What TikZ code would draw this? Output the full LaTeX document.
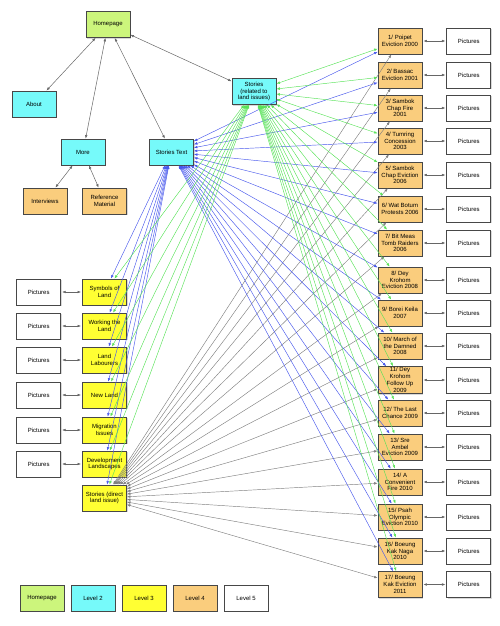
\documentclass[tikz,border=0pt]{standalone}
\usepackage{fontspec}
\setmainfont{Liberation Sans}
\usetikzlibrary{arrows.meta,positioning,shadows}

\definecolor{homegreen}{RGB}{204,245,124}
\definecolor{levelcyan}{RGB}{118,250,250}
\definecolor{levelyellow}{RGB}{255,255,51}
\definecolor{levelorange}{RGB}{250,205,125}
\definecolor{linkblue}{RGB}{72,88,236}
\definecolor{linkgreen}{RGB}{88,226,88}

\tikzset{
	pagebox/.style={draw=black!72, line width=0.8pt, fill=white, minimum width=44pt, minimum height=26pt, inner sep=1pt, align=center, font=\fontsize{6}{6.8}\selectfont, drop shadow={shadow xshift=1pt, shadow yshift=-1.2pt, opacity=0.3}},
	homebox/.style={pagebox, fill=homegreen},
	leveltwo/.style={pagebox, fill=levelcyan},
	levelthree/.style={pagebox, fill=levelyellow},
	levelfour/.style={pagebox, fill=levelorange},
	levelfive/.style={pagebox},
	navlink/.style={<->, draw=black!60, line width=0.5pt},
	bluelink/.style={<->, draw=linkblue, line width=0.45pt},
	greenlink/.style={<->, draw=linkgreen, line width=0.45pt},
	greylink/.style={<->, draw=black!50, line width=0.45pt}
}

\begin{document}
\begin{tikzpicture}[x=1pt,y=-1pt,>={Latex[length=3.5pt,width=2.6pt]}]
		\useasboundingbox (0,0) rectangle (500,626);
		\node[homebox] (home) at (108,24.5) {Homepage};
		\node[leveltwo] (about) at (34,104) {About};
		\node[leveltwo] (more) at (83,152) {More};
		\node[leveltwo] (sttext) at (171.5,152) {Stories Text};
		\node[leveltwo] (strel) at (254,91.5) {Stories\\(related to\\land issues)};
		\node[levelfour] (interv) at (45,201) {Interviews};
		\node[levelfour] (refmat) at (104.5,201) {Reference\\Material};
		\node[levelfour] (r1) at (400,41) {1/ Poipet\\Eviction 2000};
		\node[levelfour] (r2) at (400,75) {2/ Bassac\\Eviction 2001};
		\node[levelfour] (r3) at (400,108) {3/ Sambok\\Chap Fire\\2001};
		\node[levelfour] (r4) at (400,141) {4/ Tumring\\Concession\\2003};
		\node[levelfour] (r5) at (400,175) {5/ Sambok\\Chap Eviction\\2006};
		\node[levelfour] (r6) at (400,209) {6/ Wat Botum\\Protests 2006};
		\node[levelfour] (r7) at (400,243) {7/ Bit Meas\\Tomb Raiders\\2006};
		\node[levelfour] (r8) at (400,280) {8/ Dey\\Krohom\\Eviction 2008};
		\node[levelfour] (r9) at (400,313) {9/ Borei Keila\\2007};
		\node[levelfour] (r10) at (400,346) {10/ March of\\the Damned\\2008};
		\node[levelfour] (r11) at (400,380) {11/ Dey\\Krohom\\Follow Up\\2009};
		\node[levelfour] (r12) at (400,413) {12/ The Last\\Chance 2009};
		\node[levelfour] (r13) at (400,447) {13/ Sre\\Ambel\\Eviction 2009};
		\node[levelfour] (r14) at (400,482) {14/ A\\Convenient\\Fire 2010};
		\node[levelfour] (r15) at (400,517) {15/ Psah\\Olympic\\Eviction 2010};
		\node[levelfour] (r16) at (400,551) {16/ Boeung\\Kak Naga\\2010};
		\node[levelfour] (r17) at (400,584.5) {17/ Boeung\\Kak Eviction\\2011};
		\node[levelthree] (l1) at (104.5,292) {Symbols of\\Land};
		\node[levelthree] (l2) at (104.5,326) {Working the\\Land};
		\node[levelthree] (l3) at (104.5,360) {Land\\Labourers};
		\node[levelthree] (l4) at (104.5,395) {New Land};
		\node[levelthree] (l5) at (104.5,430) {Migration\\Issues};
		\node[levelthree] (l6) at (104.5,464) {Development\\Landscapes};
		\node[levelthree] (sd) at (104.5,498) {Stories (direct\\land issue)};
		\node[homebox] (leg1) at (42,598) {Homepage};
		\node[leveltwo] (leg2) at (93,598) {Level 2};
		\node[levelthree] (leg3) at (144,598) {Level 3};
		\node[levelfour] (leg4) at (195,598) {Level 4};
		\node[levelfive] (leg5) at (246,598) {Level 5};
		\foreach \i in {1,...,17}
		\node[levelfive, right=24pt of r\i] (rp\i) {Pictures};
		\foreach \i in {1,...,6}
		\node[levelfive, left=21pt of l\i] (lp\i) {Pictures};
		\draw[navlink] (home) -- (about);
		\draw[navlink] (home) -- (more);
		\draw[navlink] (home) -- (sttext);
		\draw[navlink] (home) -- (strel);
		\draw[navlink] (more) -- (interv);
		\draw[navlink] (more) -- (refmat);
		\foreach \i in {1,...,17} {
			\draw[navlink, shorten <=1pt, shorten >=1pt] (r\i) -- (rp\i);
			\draw[bluelink] (sttext) -- (r\i);
			\draw[greenlink] (strel) -- (r\i);
			\draw[greylink] (sd) -- (r\i);
		}
		\foreach \i in {1,...,6}
		\draw[navlink, shorten <=1pt, shorten >=1pt] (l\i) -- (lp\i);
		\foreach \i in {1,...,6}
		\draw[bluelink] (sttext) -- (l\i);
		\draw[bluelink] (sttext) -- (sd);
		\foreach \i in {1,...,6}
		\draw[greenlink] (strel) -- (l\i);
		\draw[greenlink] (strel) -- (sd);
\end{tikzpicture}
\end{document}
